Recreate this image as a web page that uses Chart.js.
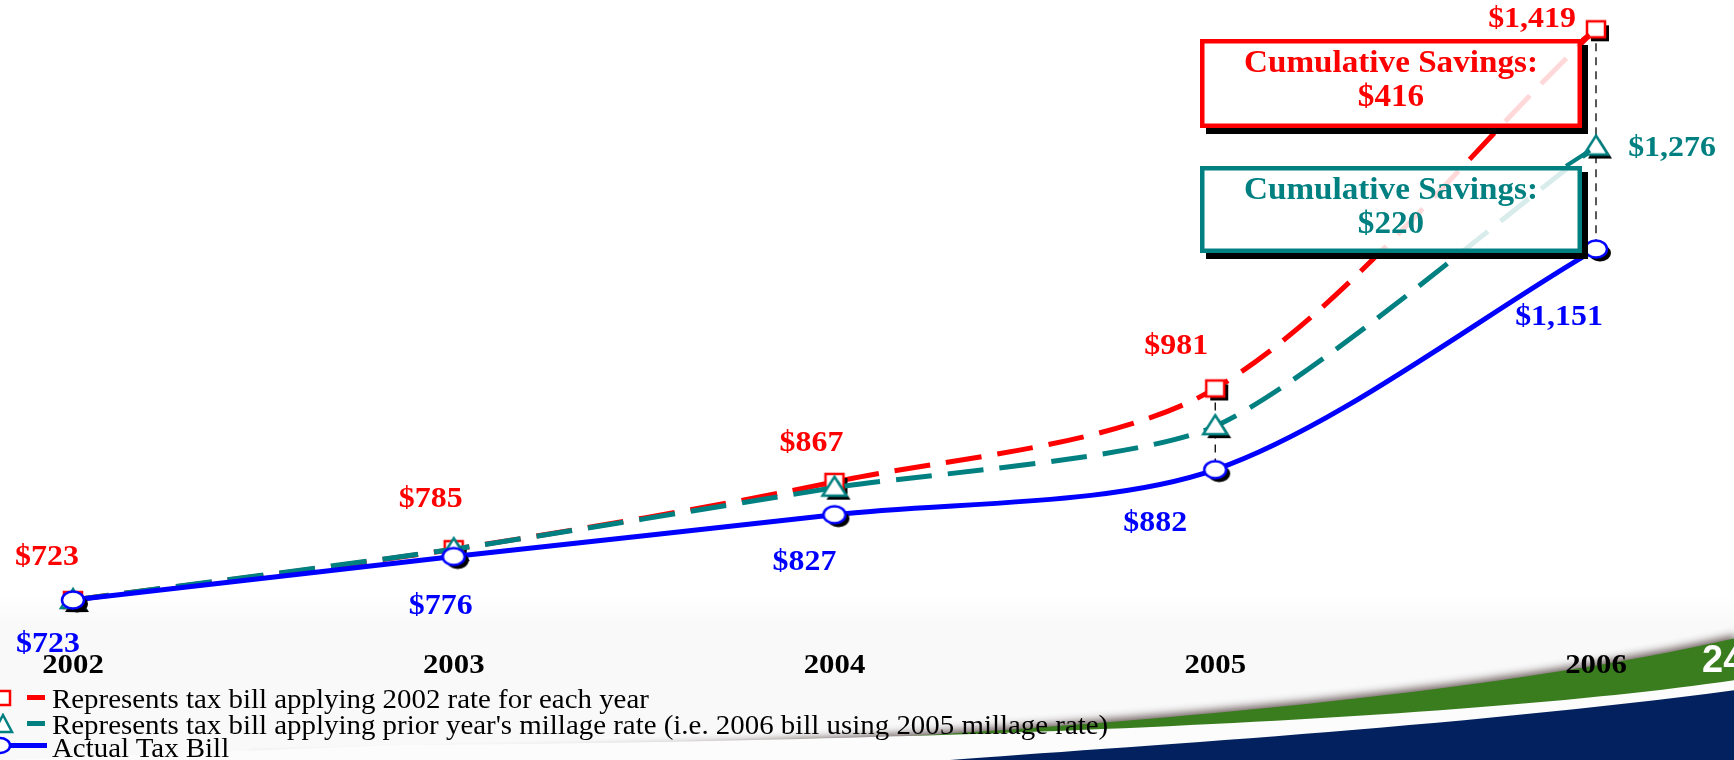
<!DOCTYPE html>
<html>
<head>
<meta charset="utf-8">
<title>Tax Bill Comparison</title>
<script src="https://cdn.jsdelivr.net/npm/chart.js@4.4.1/dist/chart.umd.min.js"></script>
<style>
    html, body { margin: 0; padding: 0; background: #fff; overflow: hidden; }
    #wrap { position: relative; width: 1734px; height: 760px; }
    #legend { position: absolute; left: 0; top: 0; width: 1734px; height: 760px; pointer-events: none; }
    .row { position: absolute; left: 0; height: 26px; white-space: nowrap; }
    .row canvas { position: absolute; left: 0; top: 0; }
    .row span {
        position: absolute; left: 52px; top: -1px;
        font-family: "Liberation Serif", "Times New Roman", serif;
        font-size: 27px; line-height: 26px; color: #000;
        transform-origin: 0 50%; transform: scaleX(1.07);
    }
</style>
</head>
<body>
<div id="wrap">
    <canvas id="billChart" width="1734" height="760"></canvas>
    <div id="legend"></div>
</div>
<script>
// === Data ===
const years = ['2002', '2003', '2004', '2005', '2006'];
const rate2002Bill = [723, 785, 867, 981, 1419];
const priorRateBill = [723, 785, 860, 935, 1276];
const actualBill = [723, 776, 827, 882, 1151];
const seriesNames = [
    'Represents tax bill applying 2002 rate for each year',
    "Represents tax bill applying prior year's millage rate (i.e. 2006 bill using 2005 millage rate)",
    'Actual Tax Bill'
];

const RED = '#ff0000';
const TEAL = '#008080';
const BLUE = '#0000ff';

const money = v => '$' + v.toLocaleString('en-US');
const savings = bills => bills.reduce((sum, v, i) => sum + (v - actualBill[i]), 0);

// === Marker images (open shape with a hard black drop shadow) ===
function markerImage(kind, color) {
    const c = document.createElement('canvas');
    c.width = 40; c.height = 40;
    const g = c.getContext('2d');
    const cx = 20, cy = 20;
    function shape(dx, dy) {
        g.beginPath();
        if (kind === 'rect') {
            g.rect(cx - 9 + dx, cy - 8 + dy, 18, 16);
        } else if (kind === 'triangle') {
            g.moveTo(cx + dx, cy - 11 + dy);
            g.lineTo(cx + 12 + dx, cy + 8 + dy);
            g.lineTo(cx - 12 + dx, cy + 8 + dy);
            g.closePath();
        } else {
            g.ellipse(cx + dx, cy + dy, 11, 8.5, 0, 0, Math.PI * 2);
        }
    }
    g.fillStyle = '#000';
    shape(4, 4); g.fill();
    shape(0, 0);
    g.fillStyle = '#fff'; g.fill();
    g.lineWidth = 2.5; g.strokeStyle = color; g.stroke();
    return c;
}

// === Helpers ===
function stretchedText(ctx, text, x, y, sx, align) {
    ctx.save();
    ctx.translate(x, y);
    ctx.scale(sx, 1);
    ctx.textAlign = align || 'center';
    ctx.textBaseline = 'middle';
    ctx.fillText(text, 0, 0);
    ctx.restore();
}

// swoosh along the bottom right
const backdrop = {
    id: 'backdrop',
    beforeDraw(chart) {
        const ctx = chart.ctx;
        const W = chart.width, H = chart.height;
        ctx.save();
        ctx.fillStyle = '#fff';
        ctx.fillRect(0, 0, W, H);
        const haze = ctx.createLinearGradient(0, 595, 0, 625);
        haze.addColorStop(0, '#ffffff');
        haze.addColorStop(1, '#f9f9f9');
        ctx.fillStyle = haze;
        ctx.fillRect(0, 595, W, H - 595);

        // upper edge of the swoosh with a soft grey shadow, green underneath
        ctx.save();
        ctx.shadowColor = 'rgba(70,50,50,0.8)';
        ctx.shadowBlur = 9;
        ctx.shadowOffsetY = -3;
        ctx.beginPath();
        ctx.moveTo(250, H);
        ctx.bezierCurveTo(800, 752, 1400, 715, W + 2, 638);
        ctx.lineTo(W + 2, H + 10);
        ctx.lineTo(250, H + 10);
        ctx.closePath();
        ctx.fillStyle = '#3a7d1e';
        ctx.fill();
        ctx.restore();

        // white rule below the green band
        ctx.beginPath();
        ctx.moveTo(0, H + 10);
        ctx.lineTo(0, 760);
        ctx.lineTo(400, 745);
        ctx.bezierCurveTo(900, 742, 1450, 722, W + 2, 680);
        ctx.lineTo(W + 2, H + 10);
        ctx.closePath();
        ctx.fillStyle = '#fcfcfc';
        ctx.fill();

        // navy base
        ctx.beginPath();
        ctx.moveTo(950, H);
        ctx.bezierCurveTo(1120, 747, 1460, 727, W + 2, 690);
        ctx.lineTo(W + 2, H + 10);
        ctx.lineTo(950, H + 10);
        ctx.closePath();
        ctx.fillStyle = '#02215e';
        ctx.fill();

        ctx.fillStyle = '#fff';
        ctx.font = 'bold 38px "Liberation Sans", Arial, sans-serif';
        ctx.textAlign = 'left';
        ctx.textBaseline = 'alphabetic';
        ctx.fillText('24', 1702, 672);
        ctx.restore();
    }
};

// thin dashed drop lines between the three bills in 2005 and 2006
const dropLines = {
    id: 'dropLines',
    beforeDatasetsDraw(chart) {
        const ctx = chart.ctx;
        const xs = chart.scales.x, ys = chart.scales.y;
        ctx.save();
        ctx.strokeStyle = '#000';
        ctx.lineWidth = 1.3;
        ctx.setLineDash([8, 6]);
        [3, 4].forEach(i => {
            const x = xs.getPixelForValue(i);
            ctx.beginPath();
            ctx.moveTo(x, ys.getPixelForValue(rate2002Bill[i]));
            ctx.lineTo(x, ys.getPixelForValue(actualBill[i]));
            ctx.stroke();
        });
        ctx.restore();
    }
};

// value labels, year labels and the two savings call-outs
const labelOffsets = {
    0: [[-26, -42], [-23, -50], [-23, -38], [-39, -42], [-64, -10]],
    1: [null, null, null, null, [76, 2]],
    2: [[-25, 45], [-13, 50], [-30, 48], [-60, 54], [-37, 68]]
};

const annotations = {
    id: 'annotations',
    afterDatasetsDraw(chart) {
        const ctx = chart.ctx;
        const xs = chart.scales.x, ys = chart.scales.y;
        const last = years.length - 1;
        const xLast = xs.getPixelForValue(last);

        const boxes = [
            { color: RED, x: 1200, y: 39, w: 382, h: 89, amount: savings(rate2002Bill),
              from: [1582, 40], to: [xLast - 7, ys.getPixelForValue(rate2002Bill[last]) + 5] },
            { color: TEAL, x: 1200, y: 166, w: 382, h: 87, amount: savings(priorRateBill),
              from: [1566, 166], to: [xLast - 6, ys.getPixelForValue(priorRateBill[last]) + 4] }
        ];

        boxes.forEach(b => {
            ctx.save();
            // connector to the 2006 marker
            ctx.strokeStyle = b.color;
            ctx.lineWidth = 4;
            ctx.beginPath();
            ctx.moveTo(b.from[0], b.from[1]);
            ctx.lineTo(b.to[0], b.to[1]);
            ctx.stroke();

            ctx.fillStyle = '#000';
            ctx.fillRect(b.x + 6, b.y + 6, b.w, b.h);
            ctx.fillStyle = '#fff';
            ctx.fillRect(b.x, b.y, b.w, b.h);

            // lines show faintly through the white box
            ctx.save();
            ctx.beginPath();
            ctx.rect(b.x, b.y, b.w, b.h);
            ctx.clip();
            ctx.globalAlpha = 0.15;
            [0, 1].forEach(i => chart.getDatasetMeta(i).dataset.draw(ctx, chart.chartArea));
            ctx.restore();

            ctx.strokeStyle = b.color;
            ctx.lineWidth = 4.5;
            ctx.setLineDash([]);
            ctx.strokeRect(b.x + 2.25, b.y + 2.25, b.w - 4.5, b.h - 4.5);

            ctx.fillStyle = b.color;
            ctx.font = 'bold 31px "Liberation Serif", "Times New Roman", serif';
            stretchedText(ctx, 'Cumulative Savings:', b.x + b.w / 2, b.y + 25, 1.07);
            stretchedText(ctx, money(b.amount), b.x + b.w / 2, b.y + 59, 1.07);
            ctx.restore();
        });

        ctx.save();
        ctx.font = 'bold 29px "Liberation Serif", "Times New Roman", serif';
        chart.data.datasets.forEach((ds, di) => {
            ds.data.forEach((v, i) => {
                const off = labelOffsets[di][i];
                if (!off) return;
                ctx.fillStyle = ds.borderColor;
                stretchedText(ctx, money(v), xs.getPixelForValue(i) + off[0], ys.getPixelForValue(v) + off[1], 1.1);
            });
        });

        ctx.fillStyle = '#000';
        ctx.font = 'bold 28px "Liberation Serif", "Times New Roman", serif';
        chart.data.labels.forEach((lab, i) => {
            stretchedText(ctx, lab, xs.getPixelForValue(i), 666, 1.1);
        });
        ctx.restore();
    }
};

// === Chart setup ===
const lineDash = [36, 16];
const ctx = document.getElementById('billChart').getContext('2d');
const billChart = new Chart(ctx, {
    type: 'line',
    data: {
        labels: years,
        datasets: [
            {
                label: seriesNames[0],
                data: rate2002Bill,
                borderColor: RED,
                borderWidth: 5,
                borderDash: lineDash,
                tension: 0.3,
                pointStyle: markerImage('rect', RED),
                pointRadius: 8,
                clip: false,
                order: 3
            },
            {
                label: seriesNames[1],
                data: priorRateBill,
                borderColor: TEAL,
                borderWidth: 5,
                borderDash: lineDash,
                tension: 0.22,
                pointStyle: markerImage('triangle', TEAL),
                pointRadius: 8,
                clip: false,
                order: 2
            },
            {
                label: seriesNames[2],
                data: actualBill,
                borderColor: BLUE,
                borderWidth: 5,
                tension: 0.3,
                pointStyle: markerImage('circle', BLUE),
                pointRadius: 8,
                clip: false,
                order: 1
            }
        ]
    },
    options: {
        responsive: false,
        animation: false,
        layout: { autoPadding: false, padding: { left: 73, right: 138, top: 0, bottom: 0 } },
        scales: {
            x: { display: false },
            y: { display: false, min: 527.9, max: 1454.7 }
        },
        plugins: {
            legend: { display: false },
            tooltip: { enabled: false }
        }
    },
    plugins: [backdrop, dropLines, annotations]
});

// === Legend ===
const legendDiv = document.getElementById('legend');
const legendRows = [
    { top: 687, color: RED, kind: 'rect', solid: false },
    { top: 713, color: TEAL, kind: 'triangle', solid: false },
    { top: 736, color: BLUE, kind: 'circle', solid: true }
];

legendRows.forEach((r, i) => {
    const row = document.createElement('div');
    row.className = 'row';
    row.style.top = r.top + 'px';
    const icon = document.createElement('canvas');
    icon.width = 52; icon.height = 26;
    const g = icon.getContext('2d');
    g.lineWidth = 2.5;
    g.strokeStyle = r.color;
    g.fillStyle = '#fff';
    g.beginPath();
    if (r.kind === 'rect') {
        g.rect(-4, 4, 14, 14);
    } else if (r.kind === 'triangle') {
        g.moveTo(3, 2); g.lineTo(12, 19); g.lineTo(-6, 19); g.closePath();
    } else {
        g.ellipse(0, 9.5, 10, 7.5, 0, 0, Math.PI * 2);
    }
    g.fill(); g.stroke();
    g.fillStyle = r.color;
    if (r.solid) {
        g.fillRect(10, 7, 37, 5);
    } else {
        g.fillRect(27, 8, 18, 5);
    }
    row.appendChild(icon);
    const span = document.createElement('span');
    span.textContent = seriesNames[i];
    row.appendChild(span);
    legendDiv.appendChild(row);
});
</script>
</body>
</html>
